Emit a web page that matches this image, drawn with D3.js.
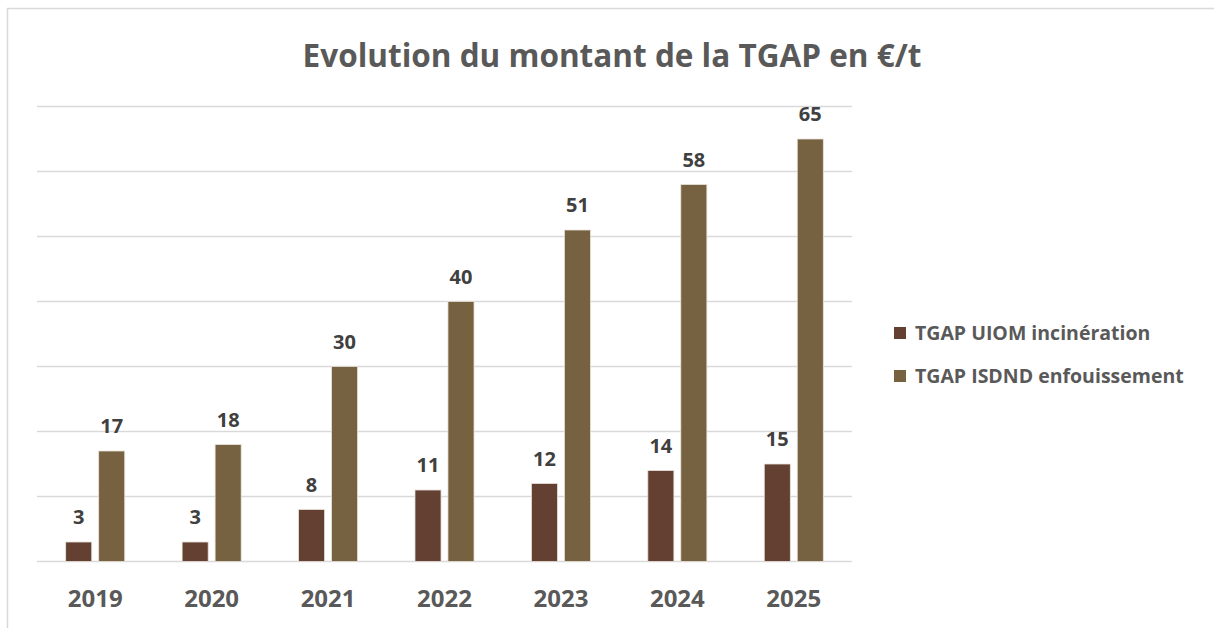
<!DOCTYPE html>
<html>
<head>
<meta charset="utf-8">
<script src="https://cdn.jsdelivr.net/npm/d3@7"></script>
<style>
  body { margin: 0; background: #fff; }
  svg { display: block; font-family: "Open Sans", sans-serif; }
</style>
</head>
<body>
<svg class="chart"></svg>
<script>
var years = ["2019", "2020", "2021", "2022", "2023", "2024", "2025"];
var seriesNames = ["TGAP UIOM incinération", "TGAP ISDND enfouissement"];
var uiom = [3, 3, 8, 11, 12, 14, 15];
var isdnd = [17, 18, 30, 40, 51, 58, 65];
var gridTicks = [0, 10, 20, 30, 40, 50, 60, 70];
var colors = ["#634032", "#766240"];

let W = 1214, H = 628;

var svg = d3.select(".chart")
            .attr("width", W)
            .attr("height", H);

// chart frame
svg.append("rect")
   .attr("x", 7.5).attr("y", 8.5)
   .attr("width", W).attr("height", H)
   .attr("fill", "none")
   .attr("stroke", "#d9d9d9")
   .attr("stroke-width", 1.5);

svg.append("text")
   .attr("x", 612)
   .attr("y", 67)
   .attr("text-anchor", "middle")
   .attr("font-size", "31.5px")
   .attr("font-weight", "bold")
   .attr("fill", "#595959")
   .text("Evolution du montant de la TGAP en €/t");

var x = d3.scaleBand()
          .domain(years)
          .range([37, 852])
          .padding(0);

var xs = d3.scaleBand()
           .domain([0, 1])
           .range([0, x.bandwidth()])
           .paddingInner(0.21)
           .paddingOuter(0.87);

var y = d3.scaleLinear()
          .domain([0, 70])
          .range([561.5, 106.5]);

// gridlines
svg.append("g")
   .selectAll("line")
   .data(gridTicks)
   .enter().append("line")
   .attr("x1", 37).attr("x2", 852)
   .attr("y1", d => y(d)).attr("y2", d => y(d))
   .attr("stroke", "#d9d9d9")
   .attr("stroke-width", 1.5);

var rows = years.map((yr, i) => ({year: yr, vals: [uiom[i], isdnd[i]]}));

var grp = svg.selectAll(".grp")
             .data(rows)
             .enter().append("g")
             .attr("class", "grp")
             .attr("transform", d => "translate(" + x(d.year) + ",0)");

grp.selectAll("rect")
   .data(d => d.vals.map((v, k) => ({v: v, k: k})))
   .enter().append("rect")
   .attr("x", d => xs(d.k))
   .attr("y", d => y(d.v))
   .attr("width", xs.bandwidth())
   .attr("height", d => y(0) - y(d.v))
   .attr("fill", d => colors[d.k])
   .attr("stroke", "#e8e2da")
   .attr("stroke-width", 0.8);

grp.selectAll(".lbl")
   .data(d => d.vals.map((v, k) => ({v: v, k: k})))
   .enter().append("text")
   .attr("class", "lbl")
   .attr("x", d => xs(d.k) + xs.bandwidth() / 2)
   .attr("y", d => y(d.v) - 18)
   .attr("text-anchor", "middle")
   .attr("font-size", "20px")
   .attr("font-weight", "bold")
   .attr("fill", "#404040")
   .text(d => d.v);

// x axis labels
svg.append("g")
   .attr("transform", "translate(0," + 561.5 + ")")
   .call(d3.axisBottom(x).tickSize(0).tickPadding(28))
   .call(g => g.select(".domain").remove())
   .selectAll("text")
   .attr("font-family", "Open Sans, sans-serif")
   .attr("font-size", "24px")
   .attr("font-weight", "bold")
   .attr("fill", "#595959");

// legend
var leg = svg.selectAll(".leg")
             .data(seriesNames)
             .enter().append("g")
             .attr("class", "leg")
             .attr("transform", (d, i) => "translate(894," + (327 + i * 43) + ")");

leg.append("rect")
   .attr("width", 12).attr("height", 12)
   .attr("fill", (d, i) => colors[i]);

leg.append("text")
   .attr("x", 21)
   .attr("y", 13)
   .attr("font-size", "19.5px")
   .attr("font-weight", "bold")
   .attr("fill", "#595959")
   .text(d => d);
</script>
</body>
</html>
